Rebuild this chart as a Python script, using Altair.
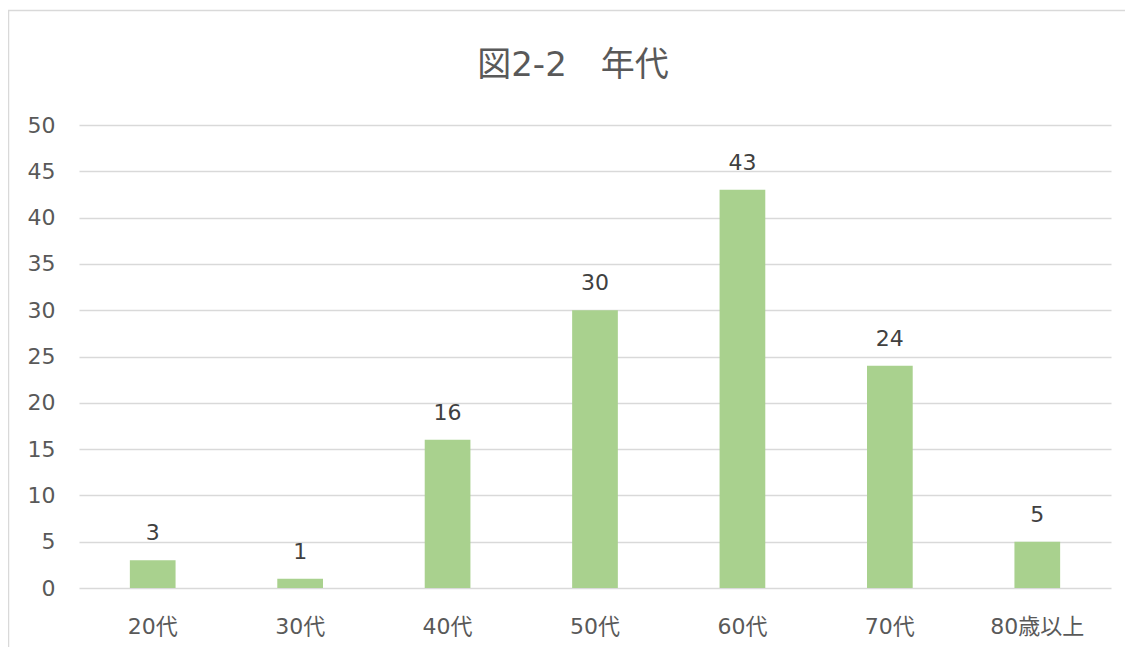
import altair as alt
import pandas as pd

title_text = "図2-2　年代"
categories = ["20代", "30代", "40代", "50代", "60代", "70代", "80歳以上"]
values = [3, 1, 16, 30, 43, 24, 5]
y_ticks = [0, 5, 10, 15, 20, 25, 30, 35, 40, 45, 50]

df = pd.DataFrame({"cat": categories, "val": values})

FONT = "DejaVu Sans, Noto Sans CJK JP, sans-serif"
TXT = "#595959"

x_enc = alt.X("cat:N", sort=categories,
              scale=alt.Scale(paddingInner=0.69, paddingOuter=0.345),
              axis=alt.Axis(title=None, labelAngle=0, labelFontSize=22, labelColor=TXT,
                            labelFont=FONT, labelPadding=28, ticks=False, domain=False,
                            grid=False))
y_enc = alt.Y("val:Q", scale=alt.Scale(domain=[0, 50], nice=False),
              axis=alt.Axis(title=None, values=y_ticks, labelFontSize=22, labelColor=TXT,
                            labelFont=FONT, labelPadding=24, ticks=False, domain=False,
                            grid=True, gridColor="#D9D9D9", gridWidth=1.5))

base = alt.Chart(df)

bars = base.mark_bar(color="#A9D18E").encode(x=x_enc, y=y_enc)

labels = base.mark_text(fontSize=22, color="#404040", font=FONT, baseline="alphabetic",
                        dy=-20).encode(x=alt.X("cat:N", sort=categories),
                                        y="val:Q", text="val:Q")

border = alt.Chart(alt.Data(values=[{}])).mark_rect(
    fill="transparent", stroke="#D9D9D9", strokeWidth=1.5
).encode(x=alt.value(-70.5), x2=alt.value(1300), y=alt.value(-114.5), y2=alt.value(900))

title = alt.Chart(alt.Data(values=[{"t": title_text}])).mark_text(
    fontSize=34, color=TXT, font=FONT, align="center", baseline="alphabetic"
).encode(x=alt.value(494), y=alt.value(-49), text="t:N")

chart = alt.layer(border, title, bars, labels).properties(
    width=1032, height=463,
    autosize=alt.AutoSizeParams(type="none"),
    padding={"left": 71, "top": 117, "right": 14, "bottom": 59},
).configure(background="white").configure_view(strokeWidth=0, stroke="transparent")

chart.save("out.html", embed_options={"renderer": "svg", "actions": False})
